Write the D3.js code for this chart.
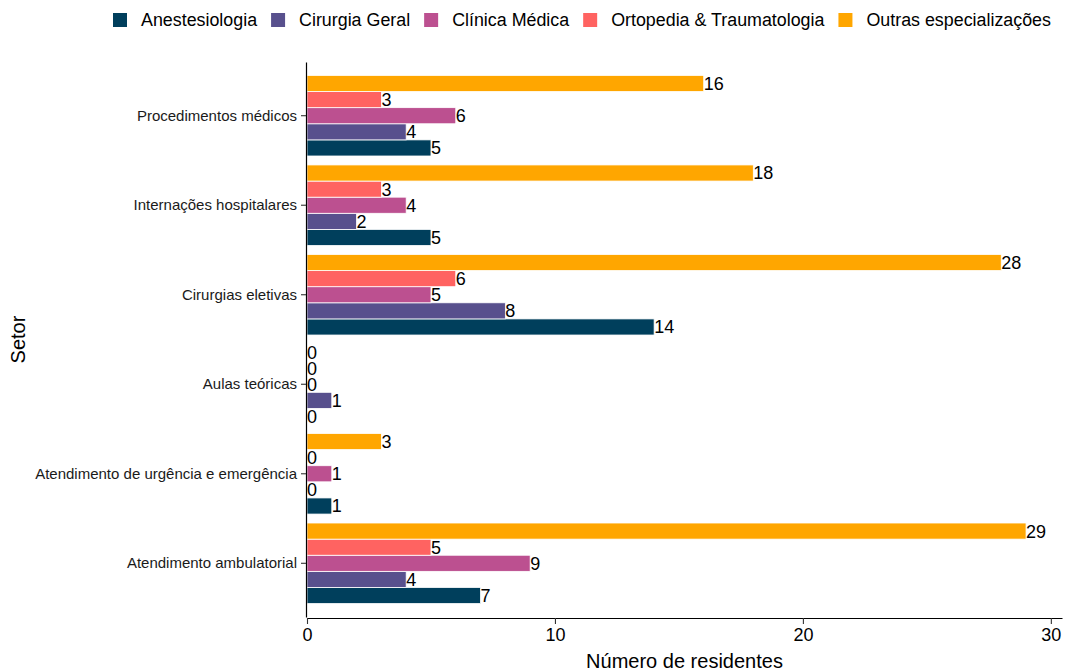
<!DOCTYPE html>
<html>
<head>
<meta charset="utf-8">
<script src="https://cdn.jsdelivr.net/npm/d3@7"></script>
<style>
  body { margin: 0; background: #fff; }
  svg { font-family: "Liberation Sans", Arial, sans-serif; }
</style>
</head>
<body>
<div id="chart"></div>
<script>
// sectors, top to bottom
var setores = ["Procedimentos médicos", "Internações hospitalares", "Cirurgias eletivas",
  "Aulas teóricas", "Atendimento de urgência e emergência", "Atendimento ambulatorial"];
var especialidades = ["Anestesiologia", "Cirurgia Geral", "Clínica Médica",
  "Ortopedia & Traumatologia", "Outras especializações"];
var cores = ["#003f5c", "#58508d", "#bc5090", "#ff6361", "#ffa600"];

// values per sector, same order as setores
var anestesiologia = [5, 5, 14, 0, 1, 7];
var cirurgiaGeral  = [4, 2, 8, 1, 0, 4];
var clinicaMedica  = [6, 4, 5, 0, 1, 9];
var ortopedia      = [3, 3, 6, 0, 0, 5];
var outras         = [16, 18, 28, 0, 3, 29];
var xTicks = [0, 10, 20, 30];

var series = [anestesiologia, cirurgiaGeral, clinicaMedica, ortopedia, outras];

var width = 1066, height = 671;
var margin = {top: 62, right: 4, bottom: 54, left: 307};

var svg = d3.select("#chart").append("svg")
  .attr("width", width)
  .attr("height", height);

var x = d3.scaleLinear()
  .domain([0, 30.45])
  .range([margin.left, width - margin.right]);

var y = d3.scaleBand()
  .domain(setores)
  .range([margin.top, height - margin.bottom])
  .paddingInner(0)
  .paddingOuter(0.1);

// inside each band: Outras on top, Anestesiologia at bottom
var inner = d3.scaleBand()
  .domain(especialidades.slice().reverse())
  .range([y.bandwidth() * 0.05, y.bandwidth() * 0.95]);

var rows = [];
setores.forEach(function(s, i){
  especialidades.forEach(function(e, j){
    rows.push({setor: s, esp: e, cor: cores[j], valor: series[j][i]});
  });
});

var g = svg.append("g");

g.selectAll("rect.bar")
  .data(rows)
  .enter()
  .append("rect")
  .attr("class", "bar")
  .attr("x", x(0))
  .attr("y", function(d){ return y(d.setor) + inner(d.esp); })
  .attr("width", function(d){ return x(d.valor) - x(0); })
  .attr("height", inner.bandwidth())
  .attr("fill", function(d){ return d.cor; })
  .attr("stroke", "#fff")
  .attr("stroke-width", 0.8);

g.selectAll("text.val")
  .data(rows)
  .enter()
  .append("text")
  .attr("class", "val")
  .attr("x", function(d){ return x(d.valor); })
  .attr("y", function(d){ return y(d.setor) + inner(d.esp) + inner.bandwidth() / 2; })
  .attr("dy", "0.36em")
  .attr("font-size", 18)
  .attr("fill", "#000")
  .text(function(d){ return d.valor; });

// axes
var xAxis = svg.append("g")
  .attr("transform", "translate(0," + (height - margin.bottom + 1) + ")")
  .call(d3.axisBottom(x).tickValues(xTicks).tickSize(6).tickPadding(4).tickSizeOuter(0));
xAxis.select(".domain").attr("stroke", "#000").attr("stroke-width", 1.2);
xAxis.selectAll(".tick line").attr("stroke", "#333").attr("stroke-width", 1.1);
xAxis.selectAll(".tick text")
  .attr("font-size", 18)
  .attr("font-family", "Liberation Sans, Arial, sans-serif")
  .attr("fill", "#000");

var yAxis = svg.append("g")
  .attr("transform", "translate(" + (margin.left - 1) + ",0)")
  .call(d3.axisLeft(y).tickSize(5).tickPadding(4).tickSizeOuter(0));
yAxis.select(".domain").attr("stroke", "#000").attr("stroke-width", 1.2);
yAxis.selectAll(".tick line").attr("stroke", "#333").attr("stroke-width", 1.1);
yAxis.selectAll(".tick text")
  .attr("font-size", 15)
  .attr("font-family", "Liberation Sans, Arial, sans-serif")
  .attr("fill", "#1a1a1a");

// axis titles
svg.append("text")
  .attr("x", (x(0) + x(30.45)) / 2)
  .attr("y", 668)
  .attr("text-anchor", "middle")
  .attr("font-size", 20)
  .text("Número de residentes");

svg.append("text")
  .attr("transform", "translate(25," + ((margin.top + height - margin.bottom) / 2) + ") rotate(-90)")
  .attr("text-anchor", "middle")
  .attr("font-size", 20)
  .text("Setor");

// legend
var legend = svg.append("g").attr("transform", "translate(113,20)");
var lx = 0;
especialidades.forEach(function(e, j){
  var item = legend.append("g").attr("transform", "translate(" + lx + ",0)");
  item.append("rect")
    .attr("x", 0).attr("y", -7)
    .attr("width", 14).attr("height", 14)
    .attr("fill", cores[j]);
  var t = item.append("text")
    .attr("x", 28)
    .attr("dy", "0.35em")
    .attr("font-size", 17.85)
    .text(e);
  lx += 28 + t.node().getComputedTextLength() + 14;
});
</script>
</body>
</html>
